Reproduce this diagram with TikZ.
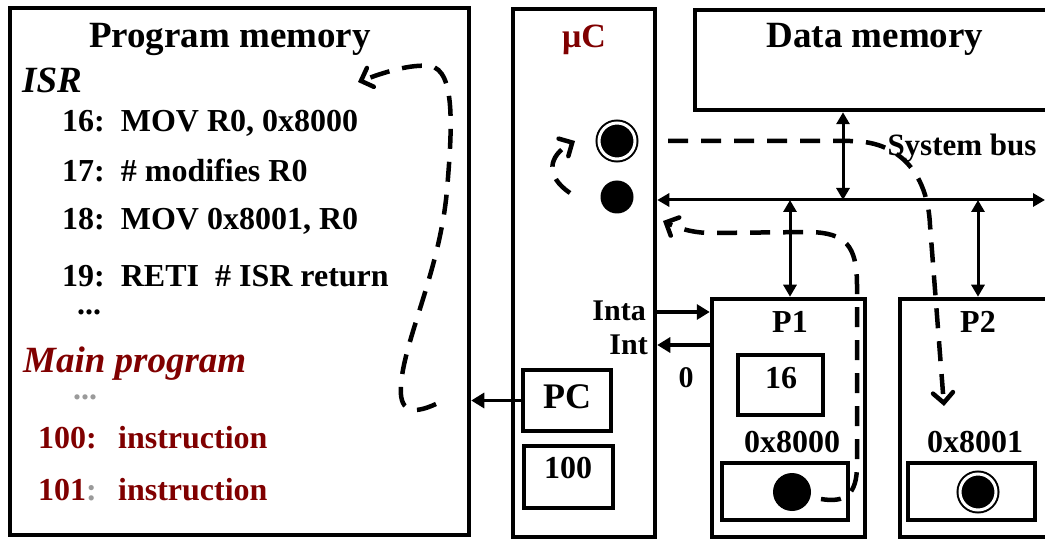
\documentclass[tikz,border=0pt]{standalone}
\usepackage{fontspec}
\setmainfont{Liberation Serif}
\definecolor{UCred}{HTML}{800000}
\definecolor{UCgray}{HTML}{9A9A9A}
\usetikzlibrary{arrows.meta, calc, positioning}

\begin{document}
\begin{tikzpicture}[x=1pt, y=-1pt,
    blk/.style={draw, line width=4.5pt, inner sep=0pt},
    sub/.style={draw, line width=3.8pt, inner sep=0pt},
    lbl/.style={inner sep=0pt, font=\fontsize{32}{38}\selectfont\bfseries},
    ttl/.style={inner sep=0pt, font=\fontsize{37}{42}\selectfont\bfseries},
    sig/.style={line width=3.4pt, -{Triangle[length=13pt, width=15pt]}},
    bus/.style={line width=3pt, {Triangle[length=12pt, width=13pt]}-{Triangle[length=12pt, width=13pt]}},
    flow/.style={line width=4.5pt, dash pattern=on 20pt off 13pt,
        -{Straight Barb[length=10pt, width=20pt, line cap=round]}},
    flag/.style={circle, fill=black, inner sep=0pt, minimum size=33pt},
    hot/.style={draw=black, line width=2pt, double=white, double distance=3pt, minimum size=36pt}
]
\path[use as bounding box, clip] (0,0) rectangle (1045,540);

% Blocks
\node[blk, minimum width=459pt, minimum height=527pt] (progmem) at (239.5,271.5) {};
\node[blk, minimum width=142pt, minimum height=528pt] (uc) at (584,273) {};
\node[blk, minimum width=370pt, minimum height=100pt] (datamem) at (880,60) {};
\node[blk, minimum width=153pt, minimum height=238pt] (pone) at (788.5,418) {};
\node[blk, minimum width=160pt, minimum height=238pt] (ptwo) at (980,418) {};

% Registers
\node[sub, minimum width=88pt, minimum height=61pt] (pcreg) at (567,400.5) {};
\node[sub, minimum width=89pt, minimum height=62pt] (pcval) at (568.5,477) {};
\node[sub, minimum width=85pt, minimum height=60pt] (vecreg) at (780.5,385) {};
\node[sub, minimum width=126pt, minimum height=57pt] (memone) at (785,491.5) {};
\node[sub, minimum width=127pt, minimum height=57pt] (memtwo) at (971.5,491.5) {};

% Program memory text
\node[ttl, anchor=base] (pmtitle) at (230,48) {Program memory};
\node[ttl, anchor=base west] (isrlbl) at (22,93) {\itshape ISR};
\node[lbl, anchor=base west] (lnA) at (62,132) {16:\ \ MOV R0, 0x8000};
\node[lbl, anchor=base west] (lnB) at (62,182) {17:\ \ \# modifies R0};
\node[lbl, anchor=base west] (lnC) at (62,230) {18:\ \ MOV 0x8001, R0};
\node[lbl, anchor=base west] (lnD) at (62,287) {19:\ \ RETI\ \ \# ISR return};
\node[lbl, anchor=base west] (dotsA) at (77,315) {...};
\node[ttl, anchor=base west, text=UCred] (mainlbl) at (23,372) {\itshape Main program};
\node[lbl, anchor=base west, text=UCgray] (dotsB) at (73,399) {...};
\node[lbl, anchor=base west, text=UCred] (lnE) at (38,448) {100:\ \ \,instruction};
\node[lbl, anchor=base west, text=UCred] (lnF) at (38,500) {101{\color{UCgray}:}\ \ \,instruction};

% Controller
\node[inner sep=0pt, anchor=base, text=UCred, font=\fontsize{34}{40}\selectfont\bfseries] (uclbl) at (584,48) {μC};
\node[flag, hot] (flagtop) at (617,141) {};
\node[flag] (flagbot) at (617,197) {};
\node[ttl, anchor=base, font=\fontsize{36}{42}\selectfont\bfseries] (pclbl) at (567,408) {PC};
\node[lbl, anchor=base] (pcnum) at (568,478) {100};
\node[lbl, anchor=base east, font=\fontsize{30}{36}\selectfont\bfseries] (intalbl) at (646,320) {Inta};
\node[lbl, anchor=base east, font=\fontsize{30}{36}\selectfont\bfseries] (intlbl) at (648,355) {Int};
\node[lbl, anchor=base, font=\fontsize{30}{36}\selectfont\bfseries] (zerolbl) at (686,387) {0};

% Data memory and peripherals
\node[ttl, anchor=base] (dmtitle) at (875,48) {Data memory};
\node[lbl, anchor=base, font=\fontsize{31}{36}\selectfont\bfseries] (buslbl) at (962,156) {System bus};
\node[lbl, anchor=base] (ponelbl) at (790,332) {P1};
\node[lbl, anchor=base] (ptwolbl) at (978,332) {P2};
\node[lbl, anchor=base] (veclbl) at (781,388) {16};
\node[lbl, anchor=base] (addrone) at (792,452) {0x8000};
\node[lbl, anchor=base] (addrtwo) at (975,452) {0x8001};
\node[flag, minimum size=38pt] (bitone) at (792,492) {};
\node[flag, hot] (bittwo) at (978,492) {};

% System bus
\coordinate (busR) at (1045,200);
\draw[bus] (uc.east |- busR) -- (busR);
\coordinate (dmtap) at (843,200);
\draw[bus] (datamem.south -| dmtap) -- (dmtap);
\coordinate (ponetap) at (790,200);
\draw[bus] (ponetap) -- (pone.north -| ponetap);
\coordinate (ptwotap) at (978,200);
\draw[bus] (ptwotap) -- (ptwo.north -| ptwotap);

% Interrupt lines
\coordinate (intaY) at (680,312);
\draw[sig] (uc.east |- intaY) -- (pone.west |- intaY);
\coordinate (intY) at (680,345);
\draw[sig] (pone.west |- intY) -- (uc.east |- intY);
\draw[sig] (pcreg.west) -- (progmem.east |- pcreg.west);

% Flow of the interrupt
\coordinate (irqA) at (821,499);
\coordinate (irqB) at (663,221);
\draw[flow] (irqA) .. controls (845,503) and (857,495) .. (857,465) -- (857,285)
   .. controls (857,245) and (845,233) .. (810,232) -- (712,233)
   .. controls (692,233) and (678,228) .. (irqB);
\coordinate (ackA) at (570,193);
\coordinate (ackB) at (575,141);
\draw[flow] (ackA) .. controls (545,176) and (548,156) .. (ackB);
\coordinate (dmaA) at (668,141);
\coordinate (dmaB) at (944,406);
\draw[flow] (dmaA) -- (850,141) .. controls (905,141) and (928,180) .. (930,225) -- (dmaB);
\coordinate (retA) at (436,404);
\coordinate (retB) at (358,82);
\draw[flow] (retA) .. controls (410,416) and (399,410) .. (401,385)
   .. controls (404,340) and (440,270) .. (447,190)
   .. controls (452,130) and (456,70) .. (430,66)
   .. controls (410,64) and (385,72) .. (retB);
\end{tikzpicture}
\end{document}
